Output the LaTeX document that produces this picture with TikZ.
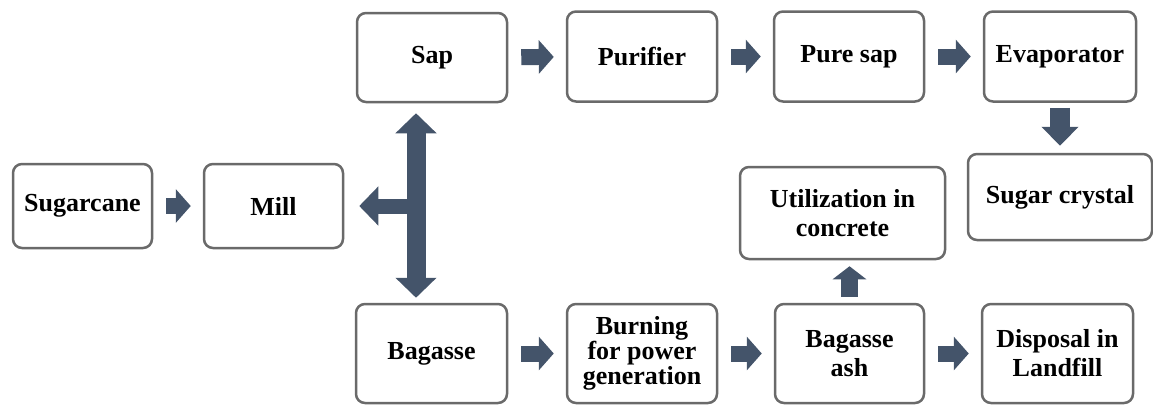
\documentclass[tikz,border=0pt]{standalone}
\usepackage{fontspec}
\setmainfont{Liberation Serif}
\usetikzlibrary{arrows.meta}
\definecolor{arrowblue}{HTML}{44546A}
\definecolor{boxgray}{HTML}{6A6A6A}

\begin{document}
\begin{tikzpicture}[x=1pt,y=-1pt,
  box/.style={draw=boxgray,line width=2.5pt,rounded corners=9pt,fill=white,align=center,inner sep=2pt,
    font=\fontsize{26}{29}\selectfont\bfseries},
  fat/.style={draw=arrowblue,line width=16pt,-{Triangle[width=33pt,length=15pt]},shorten <=13pt,shorten >=12pt}]
\useasboundingbox (0,0) rectangle (1153,405);
\node[box,minimum width=139pt,minimum height=84pt] (sugarcane) at (82.5,206) {Sugarcane};
\node[box,minimum width=139pt,minimum height=84pt] (mill) at (273.5,206) {Mill};
\node[box,minimum width=150pt,minimum height=89pt] (sap) at (432,57.5) {Sap};
\node[box,minimum width=150pt,minimum height=90pt] (purifier) at (642,56.5) {Purifier};
\node[box,minimum width=150pt,minimum height=90pt] (puresap) at (849,56.5) {Pure sap};
\node[box,minimum width=152pt,minimum height=90pt] (evaporator) at (1060,56.5) {Evaporator};
\node[box,minimum width=184pt,minimum height=86pt] (crystal) at (1060,197) {Sugar crystal};
\node[box,minimum width=205pt,minimum height=92pt] (util) at (842.5,213) {Utilization in\\concrete};
\node[box,minimum width=151pt,minimum height=99pt] (bagasse) at (431.5,353.5) {Bagasse};
\node[box,minimum width=150pt,minimum height=99pt,font=\fontsize{26}{22.5}\selectfont\bfseries] (burning) at (642,353.5) {Burning\\for power\\generation};
\node[box,minimum width=149pt,minimum height=99pt] (ash) at (849.5,353.5) {Bagasse\\ash};
\node[box,minimum width=151pt,minimum height=99pt] (disposal) at (1057.5,353.5) {Disposal in\\Landfill};
\coordinate (tee) at (416,206);

\draw[fat] (sugarcane) -- (mill);
\draw[fat] (sap) -- (purifier);
\draw[fat] (purifier) -- (puresap);
\draw[fat] (puresap) -- (evaporator);
\draw[fat] (bagasse) -- (burning);
\draw[fat] (burning) -- (ash);
\draw[fat] (ash) -- (disposal);
\draw[fat,line width=20pt,-{Triangle[width=36pt,length=19pt]},shorten <=5pt,shorten >=7pt] (evaporator.south) -- (crystal.north);
\draw[fat,line width=17pt,-{Triangle[width=33pt,length=13pt]},shorten <=6pt,shorten >=6pt] (ash.north) -- (ash.north |- util.south);
\draw[fat,line width=19pt,{Triangle[width=40pt,length=20pt]}-{Triangle[width=40pt,length=20pt]},shorten <=10pt,shorten >=5pt] (tee |- sap.south) -- (tee |- bagasse.north);
\draw[fat,line width=15pt,-{Triangle[width=38pt,length=19pt]},shorten <=0pt,shorten >=15pt] (tee) -- (mill.east |- tee);
\end{tikzpicture}
\end{document}
